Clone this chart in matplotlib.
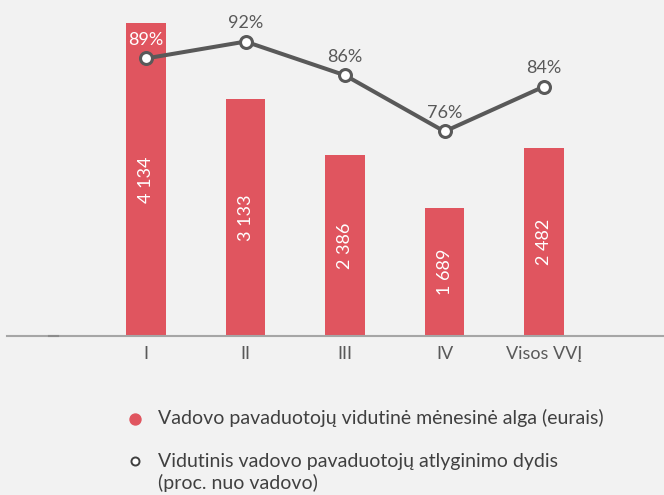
import numpy as np
import matplotlib
matplotlib.use("Agg")
import matplotlib.pyplot as plt
from matplotlib.lines import Line2D

plt.rcParams['font.family'] = ['Lato', 'DejaVu Sans']

categories = ["I", "II", "III", "IV", "Visos VVĮ"]
salaries = [4134, 3133, 2386, 1689, 2482]
percents = [89, 92, 86, 76, 84]
legend_label_1 = "Vadovo pavaduotojų vidutinė mėnesinė alga (eurais)"
legend_label_2 = ["Vidutinis vadovo pavaduotojų atlyginimo dydis", "(proc. nuo vadovo)"]

bg = '#F2F2F2'
bar_color = '#E0555F'
line_color = '#595959'
text_color = '#595959'
legend_text_color = '#404040'
fs = 13
lfs = 14
W, H = 664, 495

fig = plt.figure(figsize=(W/100, H/100), dpi=100, facecolor=bg)
ax = fig.add_axes([7/W, (H-336)/H, 1-7/W, 336/H])
ax.set_facecolor('none')
x = np.arange(len(categories))
ax.bar(x, salaries, width=0.40, color=bar_color, zorder=2)
ax.set_xlim(-1.397, 5.206)
ax.set_ylim(0, 4435)
ax.set_xticks(x, categories)
ax.tick_params(axis='x', length=0, pad=7, labelsize=fs, labelcolor=text_color)
ax.set_yticks([])
for s in ['top', 'left', 'right']:
    ax.spines[s].set_visible(False)
ax.spines['bottom'].set_color('#A6A6A6')
ax.spines['bottom'].set_linewidth(1.5)

for xi, v in zip(x, salaries):
    ax.text(xi, v/2, f"{v:,}".replace(',', ' '), rotation=90, ha='center', va='center',
            color='white', fontsize=fs, zorder=3)

tw = ax.twinx()
tw.set_ylim(39.6, 99.4)
tw.set_yticks([])
for s in tw.spines.values():
    s.set_visible(False)
tw.plot(x, percents, color=line_color, lw=2.9, marker='o', ms=8.6, mfc='white',
        mec=line_color, mew=2.2, zorder=4)
for i, (xi, p) in enumerate(zip(x, percents)):
    tw.annotate(f"{p}%", (xi, p), xytext=(0, 9.7), textcoords='offset points',
                ha='center', va='baseline', fontsize=fs,
                color='white' if i == 0 else text_color)

# small tick mark on the axis line
fig.add_artist(Line2D([49/W, 58/W], [(H-336)/H]*2, color='#8C8C8C', lw=1.5))

# legend (drawn in figure coordinates)
fig.add_artist(Line2D([135/W], [(H-419)/H], marker='o', ls='none', ms=7.9,
                      color=bar_color))
fig.add_artist(Line2D([135/W], [(H-461)/H], marker='o', ls='none', ms=5.8,
                      mfc='white', mec=legend_text_color, mew=1.4))
fig.text(158/W, (H-424)/H, legend_label_1, fontsize=lfs, color=legend_text_color,
         va='baseline', ha='left')
fig.text(158/W, (H-466.7)/H, legend_label_2[0], fontsize=lfs, color=legend_text_color,
         va='baseline', ha='left')
fig.text(158/W, (H-489)/H, legend_label_2[1], fontsize=lfs, color=legend_text_color,
         va='baseline', ha='left')

fig.savefig('out.png', dpi=100, facecolor=bg)
